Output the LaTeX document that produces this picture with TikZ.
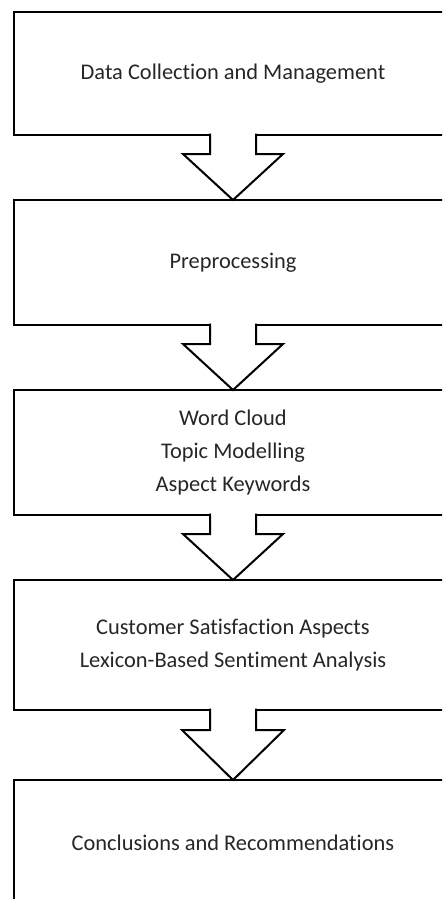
\documentclass[tikz,border=0pt]{standalone}
\usepackage{fontspec}
\setmainfont{Carlito}[Ligatures={NoCommon}]
\usepackage{tikz}
\usetikzlibrary{positioning,calc}

\begin{document}
\begin{tikzpicture}[
    stage/.style={draw, line width=2pt, outer sep=0pt, inner sep=0pt, minimum width=438pt,
      align=center, text=black!85, font=\fontsize{22.4}{33}\selectfont},
    blockarrow/.style={draw, line width=2pt, fill=white, line join=miter}
  ]
  \useasboundingbox (0,0) rectangle (442pt,-899pt);
  \clip (0,0) rectangle (442pt,-899pt);

  % Nodes
  \node[stage, minimum height=123pt] (collect) at (233pt,-73.5pt) {Data Collection and Management};
  \node[stage, minimum height=125pt, below=65pt of collect] (prep) {Preprocessing};
  \node[stage, minimum height=125pt, below=65pt of prep] (topics) {Word Cloud\\Topic Modelling\\Aspect Keywords};
  \node[stage, minimum height=130pt, below=65pt of topics] (sentiment) {Customer Satisfaction Aspects\\Lexicon-Based Sentiment Analysis};
  \node[stage, minimum height=126pt, below=70pt of sentiment] (concl) {Conclusions and Recommendations};

  % Arrows
  \draw[blockarrow] ($(collect.south)+(-23pt,1.5pt)$) -- ($(collect.south)+(-23pt,-19pt)$) -- ($(collect.south)+(-50pt,-19pt)$)
    -- (prep.north) -- ($(collect.south)+(50pt,-19pt)$) -- ($(collect.south)+(23pt,-19pt)$) -- ($(collect.south)+(23pt,1.5pt)$);
  \draw[blockarrow] ($(prep.south)+(-23pt,1.5pt)$) -- ($(prep.south)+(-23pt,-19pt)$) -- ($(prep.south)+(-50pt,-19pt)$)
    -- (topics.north) -- ($(prep.south)+(50pt,-19pt)$) -- ($(prep.south)+(23pt,-19pt)$) -- ($(prep.south)+(23pt,1.5pt)$);
  \draw[blockarrow] ($(topics.south)+(-23pt,1.5pt)$) -- ($(topics.south)+(-23pt,-19pt)$) -- ($(topics.south)+(-50pt,-19pt)$)
    -- (sentiment.north) -- ($(topics.south)+(50pt,-19pt)$) -- ($(topics.south)+(23pt,-19pt)$) -- ($(topics.south)+(23pt,1.5pt)$);
  \draw[blockarrow] ($(sentiment.south)+(-23pt,1.5pt)$) -- ($(sentiment.south)+(-23pt,-20pt)$) -- ($(sentiment.south)+(-51pt,-20pt)$)
    -- (concl.north) -- ($(sentiment.south)+(51pt,-20pt)$) -- ($(sentiment.south)+(23pt,-20pt)$) -- ($(sentiment.south)+(23pt,1.5pt)$);
\end{tikzpicture}
\end{document}
